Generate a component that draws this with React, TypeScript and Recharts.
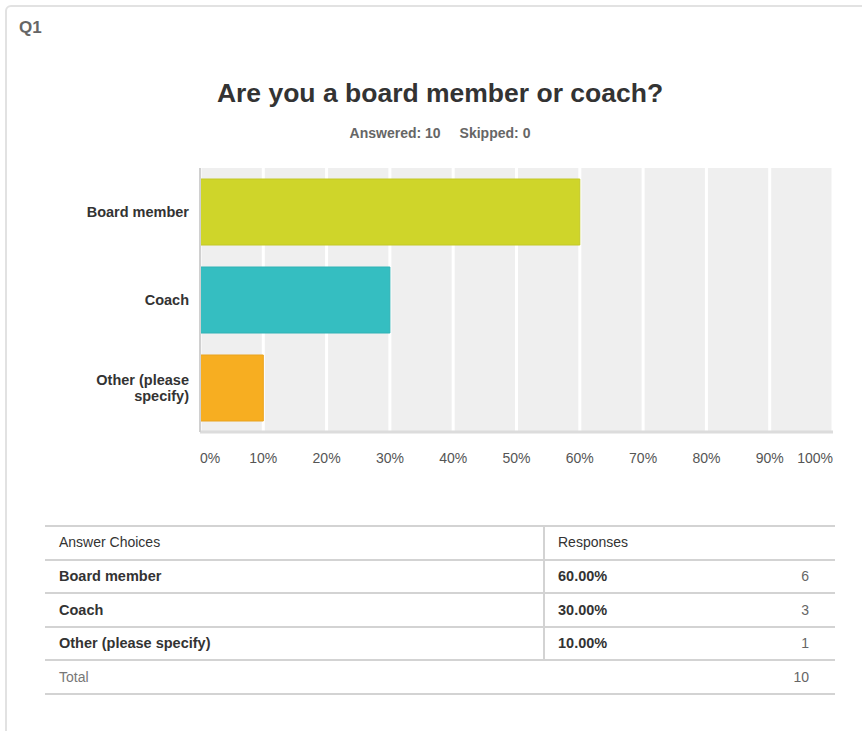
import React from 'react'
import { BarChart, Bar, XAxis, YAxis, CartesianGrid, Cell } from 'recharts'

const CATEGORIES = ['Board member', 'Coach', 'Other (please specify)']
const PERCENTS = [60, 30, 10]
const COUNTS = [6, 3, 1]
const TOTAL = 10
const SKIPPED = 0
const X_TICKS = [0, 10, 20, 30, 40, 50, 60, 70, 80, 90, 100]
const COLORS = ['#cfd52a', '#35bec1', '#f7ae21']
const BORDERS = ['#c3c827', '#30b2b5', '#e9a31f']

const FONT = "'Liberation Sans', Arial, Helvetica, sans-serif"

const data = CATEGORIES.map((name, i) => ({ name, value: PERCENTS[i] }))

function wrap(label: string, max: number) {
  const words = label.split(' ')
  const lines: string[] = []
  let cur = ''
  words.forEach(w => {
    const next = cur ? cur + ' ' + w : w
    if (next.length > max && cur) {
      lines.push(cur)
      cur = w
    } else {
      cur = next
    }
  })
  if (cur) lines.push(cur)
  return lines
}

const YTick = (props: any) => {
  const { x, y, payload } = props
  const lines = wrap(payload.value, 13)
  const lh = 16
  const start = y - ((lines.length - 1) * lh) / 2
  return (
    <text x={x - 3} y={start} textAnchor="end" fontFamily={FONT} fontSize={14.5} fontWeight="bold" fill="#333">
      {lines.map((l, i) => (
        <tspan key={i} x={x - 3} y={start + i * lh} dy="0.35em">{l}</tspan>
      ))}
    </text>
  )
}

const XTick = (props: any) => {
  const { x, y, payload, index } = props
  const last = X_TICKS.length - 1
  const anchor = index === 0 ? 'start' : index === last ? 'end' : 'middle'
  return (
    <text x={x} y={y + 23} textAnchor={anchor} fontFamily={FONT} fontSize={14} fill="#555">
      {payload.value}%
    </text>
  )
}

const cell = (extra: React.CSSProperties = {}): React.CSSProperties => ({
  position: 'absolute',
  fontFamily: FONT,
  fontSize: 14,
  color: '#333',
  lineHeight: '16px',
  ...extra,
})

const ROW_LINES = [525, 559, 592, 626, 659, 693]

export default function App() {
  return (
    <div style={{ position: 'absolute', left: 0, top: 0, width: 862, height: 731, overflow: 'hidden', background: '#fff' }}>
      <div style={{
        position: 'absolute', left: 5, top: 5, width: 880, height: 760,
        border: '2px solid #e2e2e2', borderRadius: 6, boxSizing: 'border-box',
      }} />
      <div style={cell({ left: 19, top: 18, fontSize: 17, fontWeight: 'bold', color: '#666', lineHeight: '20px' })}>Q1</div>
      <div style={cell({ left: 0, width: 880, top: 77, textAlign: 'center', fontSize: 26.5, fontWeight: 'bold', lineHeight: '32px' })}>
        Are you a board member or coach?
      </div>
      <div style={cell({ left: 0, width: 880, top: 125, textAlign: 'center', fontSize: 14, fontWeight: 'bold', color: '#666' })}>
        Answered: {TOTAL}<span style={{ display: 'inline-block', width: 19 }} />Skipped: {SKIPPED}
      </div>

      <div style={{ position: 'absolute', left: 0, top: 0 }}>
        <BarChart width={862} height={480} data={data} layout="vertical"
          margin={{ top: 168, right: 29, left: 0, bottom: 0 }}>
          <CartesianGrid horizontal={false} fill="#efefef" stroke="#ffffff" strokeWidth={3} />
          <XAxis type="number" domain={[0, 100]} ticks={X_TICKS} interval={0} height={48}
            axisLine={{ stroke: '#dcdcdc', strokeWidth: 3 }} tickLine={false} tick={<XTick />} />
          <YAxis type="category" dataKey="name" width={200}
            axisLine={{ stroke: '#d0d0d0', strokeWidth: 2 }} tickLine={false} tick={<YTick />} />
          <Bar dataKey="value" barSize={66} isAnimationActive={false}>
            {data.map((d, i) => (
              <Cell key={d.name} fill={COLORS[i]} stroke={BORDERS[i]} strokeWidth={1} />
            ))}
          </Bar>
        </BarChart>
      </div>

      {ROW_LINES.map(y => (
        <div key={y} style={{ position: 'absolute', left: 45, width: 790, top: y, height: 2, background: '#d3d3d3' }} />
      ))}
      <div style={{ position: 'absolute', left: 543, top: 525, width: 2, height: 135, background: '#d3d3d3' }} />

      <div style={cell({ left: 59, top: 534 })}>Answer Choices</div>
      <div style={cell({ left: 558, top: 534 })}>Responses</div>
      {CATEGORIES.map((c, i) => (
        <React.Fragment key={c}>
          <div style={cell({ left: 59, top: 568 + i * 33.5, fontWeight: 'bold', fontSize: 14.5 })}>{c}</div>
          <div style={cell({ left: 558, top: 568 + i * 33.5, fontWeight: 'bold', fontSize: 14.5 })}>{PERCENTS[i].toFixed(2)}%</div>
          <div style={cell({ left: 700, width: 109, top: 568 + i * 33.5, textAlign: 'right', color: '#666' })}>{COUNTS[i]}</div>
        </React.Fragment>
      ))}
      <div style={cell({ left: 59, top: 669, color: '#777' })}>Total</div>
      <div style={cell({ left: 700, width: 109, top: 669, textAlign: 'right', color: '#666' })}>{TOTAL}</div>
    </div>
  )
}
